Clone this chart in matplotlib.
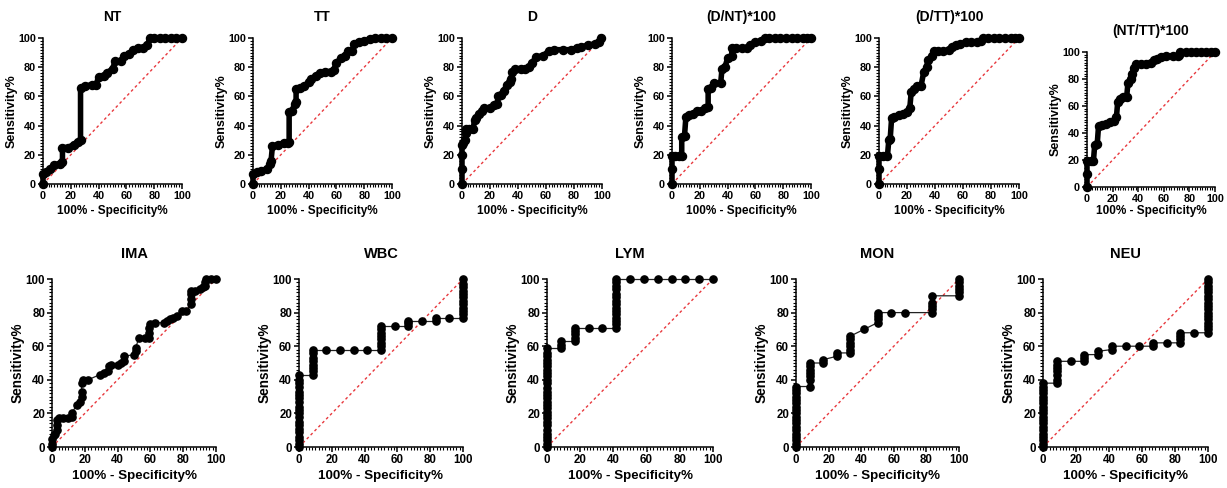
import matplotlib.pyplot as plt
from matplotlib.ticker import MultipleLocator

plt.rcParams['font.family'] = ['Liberation Sans', 'DejaVu Sans']
plt.rcParams['font.weight'] = 'bold'

# ---- top row: dense ROC curves ----
nt_x = [0, 0, 2, 5, 8, 12, 14, 14, 18, 22, 25, 27, 27, 30, 35, 38, 40, 44, 46, 50, 52, 56, 58, 62, 65, 68, 72, 75, 77, 80, 84, 88, 92, 96, 100]
nt_y = [0, 7, 8, 10, 13, 14, 15, 25, 25, 27, 29, 30, 66, 67, 68, 68, 73, 74, 76, 79, 84, 84, 88, 89, 92, 93, 93, 95, 100, 100, 100, 100, 100, 100, 100]

tt_x = [0, 0, 3, 6, 10, 12, 13, 14, 18, 22, 25, 26, 26, 28, 30, 31, 31, 34, 37, 40, 42, 45, 48, 52, 56, 58, 60, 63, 66, 68, 71, 73, 76, 80, 84, 88, 92, 96, 100]
tt_y = [0, 7, 8, 9, 10, 14, 16, 26, 27, 28, 28, 29, 49, 50, 55, 56, 65, 66, 67, 70, 72, 74, 76, 77, 77, 78, 83, 86, 88, 91, 91, 96, 97, 98, 99, 100, 100, 100, 100]

d_x = [0, 0, 0, 0, 1, 2, 3, 3, 5, 8, 9, 10, 12, 14, 16, 20, 23, 25, 26, 28, 30, 32, 34, 35, 36, 38, 42, 45, 48, 50, 53, 58, 62, 66, 72, 78, 82, 85, 90, 95, 98, 99]
d_y = [0, 10, 20, 27, 28, 30, 35, 38, 38, 38, 44, 45, 48, 50, 52, 52, 54, 55, 60, 61, 64, 68, 70, 72, 77, 79, 79, 79, 80, 83, 87, 88, 91, 92, 92, 92, 93, 94, 95, 96, 97, 100]

dnt_x = [0, 0, 0, 2, 5, 7, 7, 9, 10, 12, 15, 18, 21, 24, 26, 26, 28, 30, 35, 36, 38, 40, 43, 43, 46, 50, 54, 56, 60, 64, 67, 70, 74, 78, 82, 86, 90, 94, 97, 100]
dnt_y = [0, 10, 19, 19, 19, 19, 32, 33, 46, 47, 48, 50, 50, 52, 53, 65, 66, 69, 69, 79, 80, 86, 88, 93, 93, 93, 93, 95, 97, 98, 100, 100, 100, 100, 100, 100, 100, 100, 100, 100]

dtt_x = [0, 0, 0, 3, 6, 7, 8, 9, 11, 14, 17, 20, 22, 23, 25, 27, 30, 32, 34, 35, 38, 39, 42, 46, 50, 52, 55, 58, 62, 66, 70, 73, 74, 78, 82, 86, 90, 94, 97, 100]
dtt_y = [0, 10, 19, 19, 19, 30, 31, 45, 46, 47, 48, 49, 52, 63, 65, 67, 67, 77, 80, 85, 88, 91, 91, 91, 92, 94, 95, 96, 97, 97, 97, 98, 100, 100, 100, 100, 100, 100, 100, 100]

ntt_x = [0, 0, 0, 3, 5, 6, 8, 9, 12, 15, 18, 21, 23, 24, 26, 28, 31, 32, 34, 35, 37, 38, 42, 46, 50, 52, 55, 58, 62, 67, 71, 72, 73, 77, 81, 85, 89, 93, 97, 100]
ntt_y = [0, 10, 19, 19, 19, 31, 32, 45, 46, 47, 48, 49, 52, 63, 65, 67, 67, 77, 80, 84, 88, 91, 91, 91, 92, 94, 95, 96, 97, 97, 97, 98, 100, 100, 100, 100, 100, 100, 100, 100]

# ---- bottom row: ROC curves with visible thresholds ----
ima_x = [0, 0, 0, 1, 2, 3, 3, 3, 4, 7, 10, 12, 12, 15, 17, 18, 18, 18, 19, 22, 29, 32, 34, 35, 36, 40, 42, 44, 44, 50, 51, 51, 53, 57, 59, 59, 59, 60, 63, 68, 70, 72, 74, 76, 79, 82, 85, 85, 85, 85, 87, 90, 92, 93, 93, 94, 97, 100]
ima_y = [0, 2, 5, 7, 8, 10, 13, 16, 17, 17, 17, 18, 20, 25, 27, 30, 33, 38, 40, 40, 43, 44, 45, 48, 49, 49, 50, 51, 54, 55, 57, 59, 65, 65, 65, 68, 71, 73, 74, 74, 75, 76, 77, 78, 81, 81, 85, 88, 91, 93, 93, 94, 95, 96, 98, 100, 100, 100]

wbc_x = [0, 0, 0, 0, 0, 0, 0, 0, 0, 0, 0, 0, 0, 0, 0, 0, 0, 0, 0, 0,
         8.3, 8.3, 8.3, 8.3, 8.3, 8.3, 8.3, 8.3, 16.7, 25, 33.3, 41.7,
         50, 50, 50, 50, 50, 50, 50, 50, 58.3, 66.7, 66.7, 66.7, 75, 83.3, 83.3, 91.7,
         100, 100, 100, 100, 100, 100, 100, 100, 100, 100, 100, 100]
wbc_y = [0, 2, 4, 6, 9, 11, 13, 15, 18, 20, 22, 24, 27, 29, 31, 33, 36, 38, 40, 43,
         43, 45, 47, 49, 51, 53, 56, 58, 58, 58, 58, 58,
         58, 60, 62, 64, 66, 68, 70, 72, 72, 72, 74, 75, 75, 75, 77, 77,
         77, 79, 81, 83, 85, 87, 89, 91, 93, 95, 97, 100]

lym_x = [0, 0, 0, 0, 0, 0, 0, 0, 0, 0, 0, 0, 0, 0, 0, 0, 0, 0, 0, 0, 0, 0, 0, 0, 0, 0, 0, 0, 0,
         8.3, 8.3, 8.3, 16.7, 16.7, 16.7, 16.7, 16.7, 25, 33.3,
         41.7, 41.7, 41.7, 41.7, 41.7, 41.7, 41.7, 41.7, 41.7, 41.7, 41.7, 41.7, 41.7, 41.7, 41.7,
         50, 58.3, 66.7, 75, 83.3, 91.7, 100]
lym_y = [0, 2, 4, 6, 8, 10, 13, 15, 17, 19, 21, 23, 25, 27, 29, 31, 33, 35, 38, 40, 42, 44, 46, 48, 50, 52, 54, 56, 59,
         59, 61, 63, 63, 65, 67, 69, 71, 71, 71,
         71, 73, 75, 77, 79, 81, 83, 85, 87, 89, 91, 94, 96, 98, 100,
         100, 100, 100, 100, 100, 100, 100]

mon_x = [0, 0, 0, 0, 0, 0, 0, 0, 0, 0, 0, 0, 0, 0, 0, 0, 0, 0, 0,
         8.3, 8.3, 8.3, 8.3, 8.3, 8.3, 8.3, 16.7, 16.7, 25, 25,
         33.3, 33.3, 33.3, 33.3, 33.3, 33.3, 41.7, 50, 50, 50, 50, 58.3, 66.7,
         83.3, 83.3, 83.3, 83.3, 83.3, 100, 100, 100, 100, 100, 100]
mon_y = [0, 2, 4, 6, 8, 10, 12, 14, 16, 18, 20, 22, 24, 26, 28, 30, 32, 34, 36,
         36, 40, 42, 44, 46, 48, 50, 50, 52, 54, 56,
         56, 58, 60, 62, 64, 66, 70, 74, 76, 78, 80, 80, 80,
         80, 82, 84, 86, 90, 90, 92, 94, 96, 98, 100]

neu_x = [0, 0, 0, 0, 0, 0, 0, 0, 0, 0, 0, 0, 0, 0, 0, 0, 0, 0, 0, 0,
         8.3, 8.3, 8.3, 8.3, 8.3, 8.3, 8.3, 16.7, 25, 25, 25, 33.3, 33.3,
         41.7, 41.7, 50, 58.3, 66.7, 66.7, 75, 83.3, 83.3, 83.3, 83.3, 91.7,
         100, 100, 100, 100, 100, 100, 100, 100, 100, 100, 100, 100, 100, 100, 100, 100, 100]
neu_y = [0, 2, 4, 6, 8, 10, 12, 14, 16, 18, 20, 22, 24, 26, 28, 30, 32, 34, 36, 38,
         38, 40, 43, 45, 47, 49, 51, 51, 51, 53, 55, 55, 57,
         58, 60, 60, 60, 60, 62, 62, 62, 64, 66, 68, 68,
         68, 70, 72, 74, 76, 78, 80, 82, 84, 86, 88, 90, 92, 94, 96, 98, 100]

top = [('NT', nt_x, nt_y), ('TT', tt_x, tt_y), ('D', d_x, d_y),
       ('(D/NT)*100', dnt_x, dnt_y), ('(D/TT)*100', dtt_x, dtt_y), ('(NT/TT)*100', ntt_x, ntt_y)]
bottom = [('IMA', ima_x, ima_y), ('WBC', wbc_x, wbc_y), ('LYM', lym_x, lym_y),
          ('MON', mon_x, mon_y), ('NEU', neu_x, neu_y)]

W, H = 1227, 488
fig = plt.figure(figsize=(W / 100, H / 100), dpi=100)

# pixel boxes (left, right, top, bottom)
top_boxes = [(43, 182, 38, 184), (253, 392, 38, 184), (462, 602, 38, 184),
             (672, 811, 38, 184), (879, 1019, 38, 184), (1087, 1215, 52, 187)]
bot_boxes = [(52, 216, 279, 447), (299, 463, 279, 447), (547, 713, 279, 447),
             (796, 959, 279, 447), (1043, 1208, 279, 447)]


def roc_axes(box, name, xs, ys, small):
    l, r, t, b = box
    ax = fig.add_axes([l / W, 1 - b / H, (r - l) / W, (b - t) / H])
    ax.plot([0, 100], [0, 100], color='#e8383d', lw=1, ls=(0, (2, 2)), zorder=1)
    if small:
        ax.plot(xs, ys, color='black', lw=4, marker='o', ms=5.8, clip_on=False, zorder=3)
    else:
        ax.plot(xs, ys, color='#222222', lw=0.9, marker='o', ms=5.2,
                mfc='black', mec='black', clip_on=False, zorder=3)
    ax.set_xlim(0, 100)
    ax.set_ylim(0, 100)
    for s in ['top', 'right']:
        ax.spines[s].set_visible(False)
    for s in ['left', 'bottom']:
        ax.spines[s].set_linewidth(1.1)
    ax.xaxis.set_major_locator(MultipleLocator(20))
    ax.yaxis.set_major_locator(MultipleLocator(20))
    ax.xaxis.set_minor_locator(MultipleLocator(2))
    ax.yaxis.set_minor_locator(MultipleLocator(2))
    fs = 7.8 if small else 8.3
    ax.tick_params(which='major', length=3.5, width=1.1, labelsize=fs, pad=1.5)
    ax.tick_params(which='minor', length=2, width=0.8)
    for lab in ax.get_xticklabels() + ax.get_yticklabels():
        lab.set_fontweight('bold')
    h = b - t
    if small:
        ax.set_title(name, fontsize=10, fontweight='bold', pad=12)
        ax.set_xlabel('100% - Specificity%', fontsize=8.5, fontweight='bold')
        ax.set_ylabel('Sensitivity%', fontsize=9, fontweight='bold')
        ax.xaxis.set_label_coords(0.5, (b - 205) / h)
        ax.yaxis.set_label_coords(-25 / (r - l), 0.5)
    else:
        ax.set_title(name, fontsize=10.5, fontweight='bold', pad=15)
        ax.set_xlabel('100% - Specificity%', fontsize=9.6, fontweight='bold')
        ax.set_ylabel('Sensitivity%', fontsize=9.8, fontweight='bold')
        ax.xaxis.set_label_coords(0.5, (b - 470) / h)
        ax.yaxis.set_label_coords(-27 / (r - l), 0.5)
    return ax


for box, (name, xs, ys) in zip(top_boxes, top):
    roc_axes(box, name, xs, ys, True)
for box, (name, xs, ys) in zip(bot_boxes, bottom):
    roc_axes(box, name, xs, ys, False)

fig.savefig('out.png', dpi=100, facecolor='white')
